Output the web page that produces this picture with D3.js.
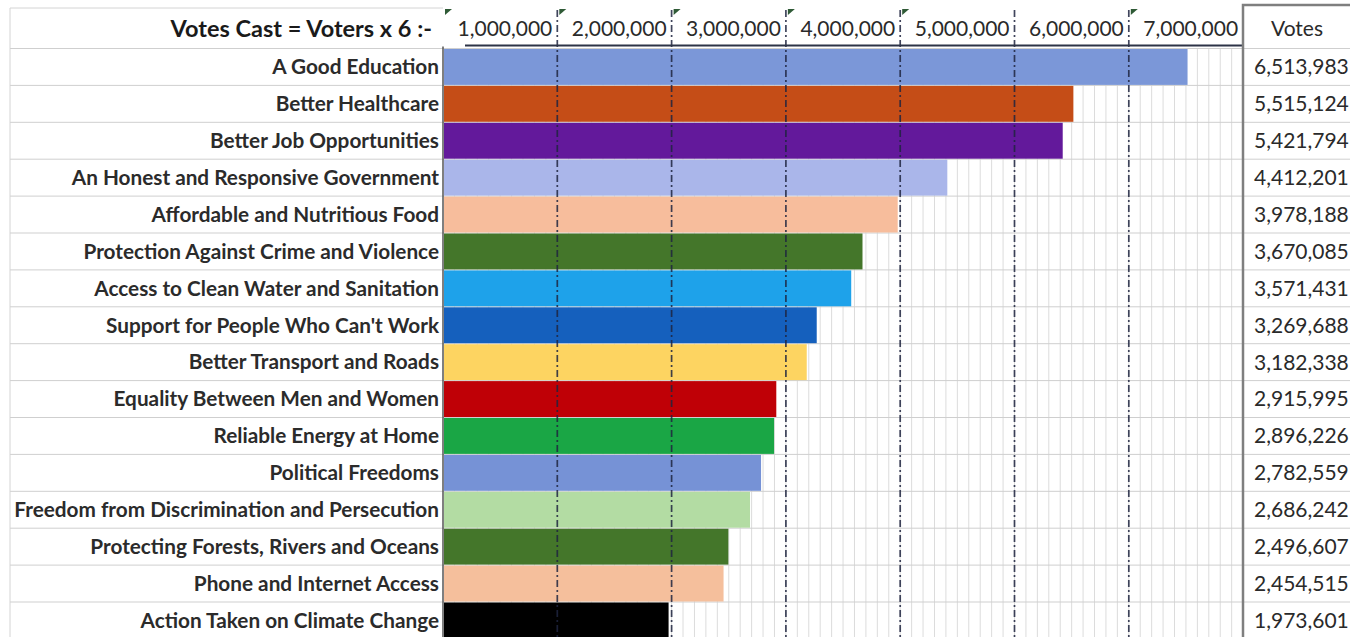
<!DOCTYPE html>
<html>
<head>
<meta charset="utf-8">
<script src="https://cdn.jsdelivr.net/npm/d3@7"></script>
<style>
  html, body { margin: 0; padding: 0; background: #fff; overflow: hidden; }
  svg { display: block; }
</style>
</head>
<body>
<svg id="chart" width="1350" height="637"></svg>
<script>
// Priorities ranked by votes cast (voters x 6)
const categories = [
  "A Good Education",
  "Better Healthcare",
  "Better Job Opportunities",
  "An Honest and Responsive Government",
  "Affordable and Nutritious Food",
  "Protection Against Crime and Violence",
  "Access to Clean Water and Sanitation",
  "Support for People Who Can't Work",
  "Better Transport and Roads",
  "Equality Between Men and Women",
  "Reliable Energy at Home",
  "Political Freedoms",
  "Freedom from Discrimination and Persecution",
  "Protecting Forests, Rivers and Oceans",
  "Phone and Internet Access",
  "Action Taken on Climate Change"
];

const votes = [
  6513983, 5515124, 5421794, 4412201, 3978188, 3670085, 3571431, 3269688,
  3182338, 2915995, 2896226, 2782559, 2686242, 2496607, 2454515, 1973601
];

const barColors = [
  "#7b97d8", "#c54d17", "#63199b", "#aab6ea", "#f7bd9c", "#44762a",
  "#1ea2ea", "#1560bd", "#fdd461", "#bf0006", "#1aa645", "#7692d6",
  "#b3dca3", "#44762a", "#f5bf9c", "#000000"
];

const tickValues = [1000000, 2000000, 3000000, 4000000, 5000000, 6000000, 7000000];
const headerTitle = "Votes Cast = Voters x 6 :-";
const votesHeader = "Votes";

// Layout
const W = 1350, H = 637;
const labelLeft = 10, barLeft = 443, barRight = 1243, tableRight = 1350;
const headerTop = 8, rowsTop = 48.5, rowH = 36.9;
const font = "Lato, 'Open Sans', sans-serif";

const svg = d3.select("#chart");
const fmt = d3.format(",");

const x = d3.scaleLinear().domain([0, 7000000]).range([barLeft, barLeft + 7 * 114.3]);
const y = d3.scaleBand().domain(categories).range([rowsTop, rowsTop + rowH * categories.length]).padding(0);

const rows = categories.map((c, i) => ({ name: c, value: votes[i], color: barColors[i] }));

// Fine vertical grid every 100,000 behind the bars
const fine = d3.range(100000, 7000000, 100000);
svg.append("g").selectAll("line").data(fine).join("line")
  .attr("x1", d => x(d)).attr("x2", d => x(d))
  .attr("y1", rowsTop).attr("y2", H)
  .attr("stroke", "#dcdcdc").attr("stroke-width", 1);

// Row separators
const rowEdges = d3.range(categories.length + 1).map(i => rowsTop + i * rowH);
svg.append("g").selectAll("line").data(rowEdges).join("line")
  .attr("x1", labelLeft).attr("x2", tableRight)
  .attr("y1", d => d).attr("y2", d => d)
  .attr("stroke", "#cfcfcf").attr("stroke-width", 1);

// Header top edge and left edge of the label column
svg.append("line").attr("x1", labelLeft).attr("x2", barLeft)
  .attr("y1", headerTop).attr("y2", headerTop)
  .attr("stroke", "#d4d4d4");
svg.append("line").attr("x1", labelLeft).attr("x2", labelLeft)
  .attr("y1", headerTop).attr("y2", H)
  .attr("stroke", "#d4d4d4");

// Bars
svg.append("g").selectAll("rect").data(rows).join("rect")
  .attr("x", x(0) + 1)
  .attr("y", d => y(d.name) + 0.5)
  .attr("width", d => x(d.value) - x(0) - 1)
  .attr("height", y.bandwidth() - 1)
  .attr("fill", d => d.color);

// Dash-dot million lines, drawn over the bars
svg.append("g").selectAll("line").data(tickValues.slice(0, 6)).join("line")
  .attr("x1", d => x(d)).attr("x2", d => x(d))
  .attr("y1", headerTop + 2).attr("y2", H)
  .attr("stroke", "#1e2540").attr("stroke-opacity", 0.85)
  .attr("stroke-width", 1.7)
  .attr("stroke-dasharray", "7,3,2,3");

// Divider between label column and bars
svg.append("line").attr("x1", barLeft).attr("x2", barLeft)
  .attr("y1", rowsTop - 2).attr("y2", H)
  .attr("stroke", "#555").attr("stroke-width", 1.5);

// Header underline
svg.append("line").attr("x1", barLeft + 22).attr("x2", barRight)
  .attr("y1", rowsTop - 3).attr("y2", rowsTop - 3)
  .attr("stroke", "#2c3346").attr("stroke-width", 2);

// Votes column border
svg.append("path")
  .attr("d", `M${barRight},${H} V${5} H${tableRight}`)
  .attr("fill", "none").attr("stroke", "#7f7f7f").attr("stroke-width", 2.5);

// Header tick labels, right-aligned inside each million cell
svg.append("g").selectAll("text").data(tickValues).join("text")
  .attr("x", d => x(d) - 5)
  .attr("y", 29)
  .attr("dy", "0.35em")
  .attr("text-anchor", "end")
  .attr("font-family", font)
  .attr("font-size", 21)
  .attr("fill", "#2a2a2a")
  .text(d => fmt(d));

// Small corner markers on header cells
const markerTicks = [0, 1000000, 2000000, 3000000, 4000000, 6000000];
svg.append("g").selectAll("path").data(markerTicks).join("path")
  .attr("d", d => `M${x(d) + 2},${headerTop + 1} h7 l-7,6 Z`)
  .attr("fill", "#2f5a36");

// Title cell
svg.append("text")
  .attr("x", 432).attr("y", 29).attr("dy", "0.35em")
  .attr("text-anchor", "end")
  .attr("font-family", font)
  .attr("font-weight", 700)
  .attr("font-size", 23.5)
  .attr("fill", "#1a1a1a")
  .text(headerTitle);

// Category labels
const labels = svg.append("g").selectAll("text").data(rows).join("text")
  .attr("x", barLeft - 4)
  .attr("y", d => y(d.name) + y.bandwidth() / 2)
  .attr("dy", "0.35em")
  .attr("text-anchor", "end")
  .attr("font-family", font)
  .attr("font-weight", 700)
  .attr("font-size", 16)
  .attr("fill", "#2b2b2b")
  .text(d => d.name);

// Fit the longest label to the column width
const longest = d3.max(labels.nodes(), n => n.getComputedTextLength());
labels.attr("font-size", 16 * 425 / longest);

// Votes column
svg.append("text")
  .attr("x", 1297).attr("y", 29).attr("dy", "0.35em")
  .attr("text-anchor", "middle")
  .attr("font-family", font)
  .attr("font-size", 21)
  .attr("fill", "#2a2a2a")
  .text(votesHeader);

svg.append("g").selectAll("text").data(rows).join("text")
  .attr("x", 1254)
  .attr("y", d => y(d.name) + y.bandwidth() / 2)
  .attr("dy", "0.35em")
  .attr("font-family", font)
  .attr("font-size", 21)
  .attr("fill", "#2a2a2a")
  .text(d => fmt(d.value));
</script>
</body>
</html>
